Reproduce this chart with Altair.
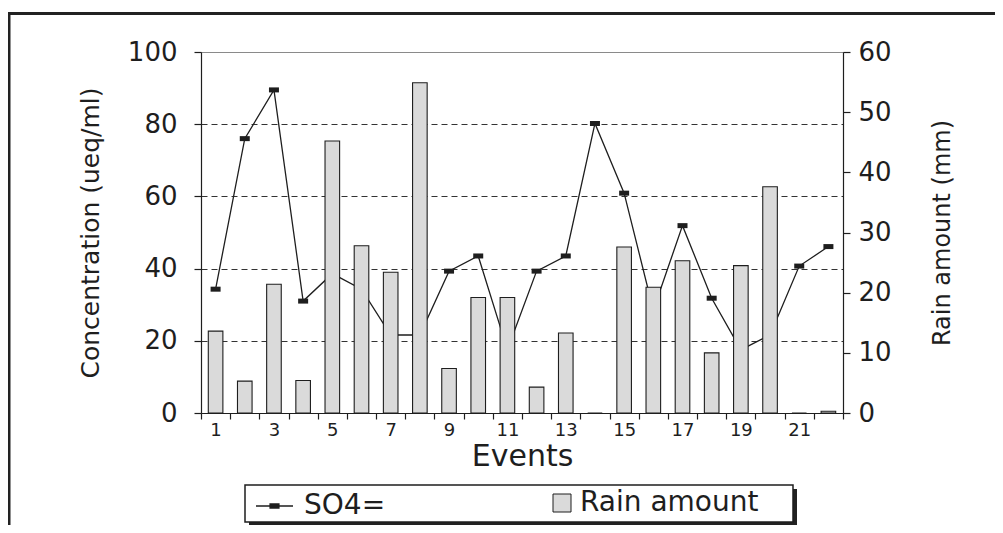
import altair as alt
import pandas as pd

# ---- data ----
events = list(range(1, 23))
so4 = [34.3, 76.0, 89.5, 31.0, 38.6, 34.3, 21.6, 21.6, 39.3, 43.5, 17.5,
       39.3, 43.5, 80.2, 60.9, 28.5, 51.9, 31.8, 17.5, 21.6, 40.7, 46.1]
rain = [13.6, 5.3, 21.4, 5.4, 45.2, 27.8, 23.4, 54.9, 7.4, 19.2, 19.2,
        4.3, 13.3, 0.0, 27.6, 20.9, 25.3, 10.0, 24.5, 37.6, 0.0, 0.3]
left_ticks = [0, 20, 40, 60, 80, 100]
right_ticks = [0, 10, 20, 30, 40, 50, 60]
series_line = "SO4="
series_bar = "Rain amount"

df = pd.DataFrame({"event": events, "so4": so4, "rain": rain,
                   "s": series_line, "r": series_bar})
one = pd.DataFrame({"k": [0]})

FONT = "DejaVu Sans"
INK = "#1e1e1e"
BARFILL = "#dadada"
W, H = 642, 361

x_enc = alt.X(
    "event:O",
    scale=alt.Scale(paddingInner=0, paddingOuter=0),
    axis=alt.Axis(
        title="Events", labelAngle=0, tickBand="extent",
        labelExpr="datum.value % 2 == 1 ? datum.label : ''",
        tickSize=6, labelPadding=2, labelFontSize=18,
        titleFontSize=30, titlePadding=2, grid=False,
    ),
)

y_left = alt.Y(
    "so4:Q",
    scale=alt.Scale(domain=[0, 100], nice=False),
    axis=alt.Axis(
        title="Concentration (ueq/ml)", values=left_ticks, grid=True,
        gridDash=[6, 4], gridColor="#333333", gridWidth=1,
        gridOpacity=alt.condition("datum.value == 100 || datum.value == 0",
                                  alt.value(0), alt.value(1)),
        tickSize=7, labelPadding=17, labelFontSize=26,
        titleFontSize=25, titlePadding=24,
    ),
)

line = alt.Chart(df).mark_line(strokeWidth=1.3).encode(
    x=x_enc,
    y=y_left,
    color=alt.Color(
        "s:N",
        scale=alt.Scale(domain=[series_line], range=[INK]),
        legend=alt.Legend(
            orient="none", legendX=54, legendY=434.5, title=None, padding=0,
            symbolType="M-1,0L1,0M-0.24,-0.11L0.24,-0.11L0.24,0.11L-0.24,0.11Z",
            symbolSize=1369, symbolStrokeWidth=1.3, symbolFillColor=INK,
            labelFontSize=28, labelOffset=10, labelFont=FONT, labelColor=INK,
            labelLimit=400,
        ),
    ),
)

points = alt.Chart(df).mark_point(
    shape="M-1,-0.5L1,-0.5L1,0.5L-1,0.5Z", size=100, filled=True,
    color=INK, opacity=1,
).encode(x=x_enc, y=alt.Y("so4:Q", scale=alt.Scale(domain=[0, 100], nice=False)))

left_layer = alt.layer(line, points)

bars = alt.Chart(df).mark_bar(
    width=alt.RelativeBandSize(0.5), stroke=INK, strokeWidth=1.1, opacity=1
).encode(
    x=x_enc,
    y=alt.Y(
        "rain:Q",
        scale=alt.Scale(domain=[0, 60], nice=False),
        axis=alt.Axis(
            orient="right", title="Rain amount (mm)", values=right_ticks,
            grid=False, tickSize=7, labelPadding=8, labelFontSize=26,
            titleFontSize=24, titleAngle=270, titleBaseline="top",
            titlePadding=39,
        ),
    ),
    fill=alt.Fill(
        "r:N",
        scale=alt.Scale(domain=[series_bar], range=[BARFILL]),
        legend=alt.Legend(
            orient="none", legendX=347, legendY=437, title=None, padding=0,
            symbolType="square", symbolSize=324, symbolStrokeColor=INK,
            symbolStrokeWidth=1, symbolFillColor=BARFILL,
            labelFontSize=28, labelOffset=4, labelFont=FONT, labelColor=INK,
            labelLimit=400,
        ),
    ),
)

# legend box with shadow, and the outer frame lines
shadow = alt.Chart(one).mark_rect(fill="#222222").encode(
    x=alt.value(48), x2=alt.value(596), y=alt.value(437), y2=alt.value(474)
)
box = alt.Chart(one).mark_rect(fill="white", stroke=INK, strokeWidth=1.5).encode(
    x=alt.value(44), x2=alt.value(592), y=alt.value(433), y2=alt.value(470)
)
frame_top = alt.Chart(one).mark_rule(color="#222222", strokeWidth=3).encode(
    x=alt.value(-193), x2=alt.value(795), y=alt.value(-38.5)
)
frame_left = alt.Chart(one).mark_rule(color="#222222", strokeWidth=3).encode(
    x=alt.value(-192), y=alt.value(-40), y2=alt.value(473)
)

chart = (
    alt.layer(left_layer, bars, shadow, box, frame_top, frame_left)
    .resolve_scale(y="independent")
    .properties(
        width=W, height=H,
        autosize=alt.AutoSizeParams(type="none"),
        padding={"left": 193, "top": 44, "right": 152, "bottom": 112},
        background="white",
    )
    .configure_view(stroke="#8a8a8a", strokeWidth=1)
    .configure_axis(
        labelFont=FONT, titleFont=FONT, titleFontWeight="normal",
        labelColor=INK, titleColor=INK, domainColor=INK, tickColor=INK,
        domainWidth=1.2, tickWidth=1.2,
    )
)

chart.save("out.html", embed_options={"renderer": "svg", "actions": False})
